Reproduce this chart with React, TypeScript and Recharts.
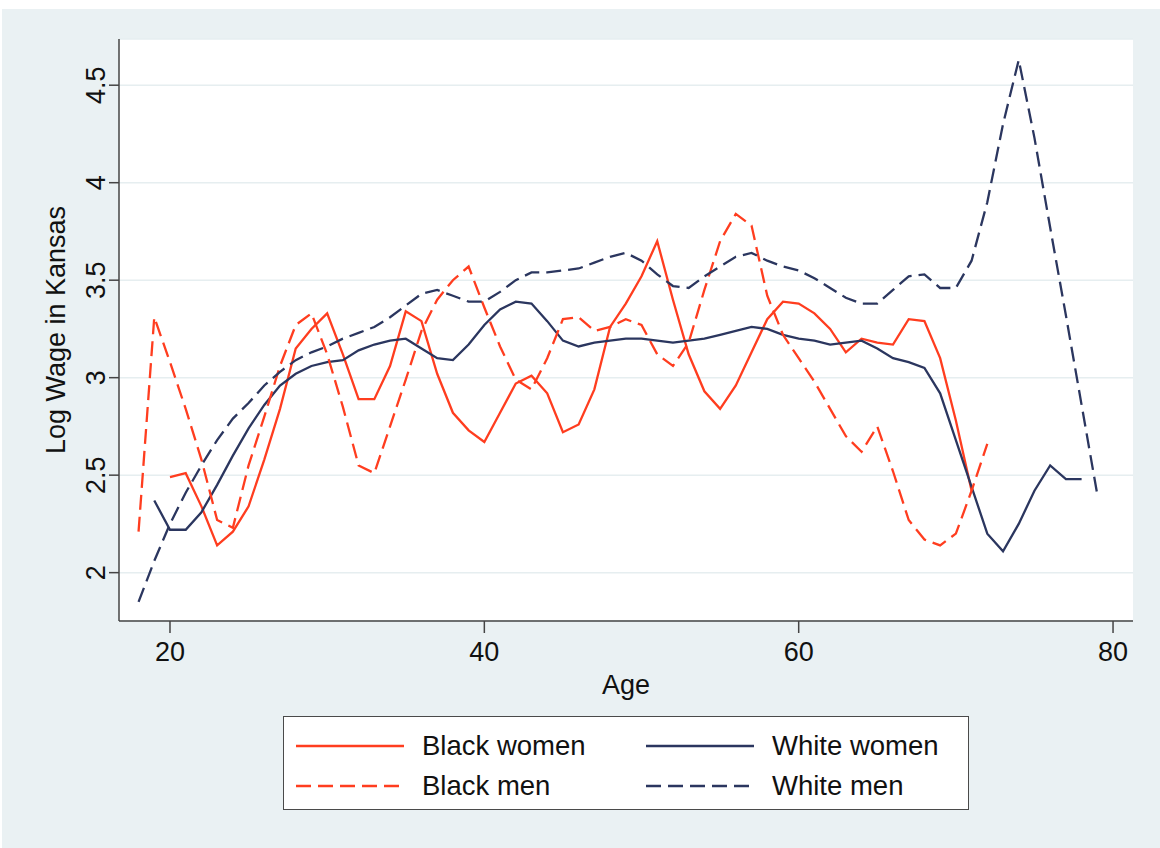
import React from 'react';
import { LineChart, Line, XAxis, YAxis, CartesianGrid, Label } from 'recharts';

// log wage by age, one value per year of age, each series starting at its own age
const firstAge = 18;
const lastAge = 79;

const blackWomenStart = 20;
const blackWomen = [
  2.49, 2.51, 2.34, 2.14, 2.21, 2.34, 2.58, 2.84, 3.15, 3.25,
  3.33, 3.12, 2.89, 2.89, 3.06, 3.34, 3.29, 3.02, 2.82, 2.73,
  2.67, 2.82, 2.97, 3.01, 2.92, 2.72, 2.76, 2.94, 3.26, 3.38,
  3.52, 3.7, 3.4, 3.12, 2.93, 2.84, 2.96, 3.13, 3.3, 3.39,
  3.38, 3.33, 3.25, 3.13, 3.2, 3.18, 3.17, 3.3, 3.29, 3.1,
  2.78, 2.42,
];

const whiteWomenStart = 19;
const whiteWomen = [
  2.37,
  2.22, 2.22, 2.31, 2.45, 2.6, 2.74, 2.86, 2.96, 3.02, 3.06,
  3.08, 3.09, 3.14, 3.17, 3.19, 3.2, 3.15, 3.1, 3.09, 3.17,
  3.27, 3.35, 3.39, 3.38, 3.29, 3.19, 3.16, 3.18, 3.19, 3.2,
  3.2, 3.19, 3.18, 3.19, 3.2, 3.22, 3.24, 3.26, 3.25, 3.22,
  3.2, 3.19, 3.17, 3.18, 3.19, 3.15, 3.1, 3.08, 3.05, 2.92,
  2.68, 2.44, 2.2, 2.11, 2.25, 2.42, 2.55, 2.48, 2.48,
];

const blackMenStart = 18;
const blackMen = [
  2.21, 3.31,
  3.08, 2.84, 2.58, 2.27, 2.23, 2.55, 2.8, 3.06, 3.27, 3.33,
  3.12, 2.85, 2.55, 2.51, 2.75, 2.99, 3.24, 3.4, 3.5, 3.57,
  3.36, 3.16, 2.99, 2.94, 3.1, 3.3, 3.31, 3.24, 3.26, 3.3,
  3.27, 3.12, 3.06, 3.18, 3.45, 3.7, 3.84, 3.78, 3.42, 3.22,
  3.1, 2.98, 2.84, 2.7, 2.62, 2.75, 2.52, 2.27, 2.17, 2.14,
  2.2, 2.42, 2.66,
];

const whiteMenStart = 18;
const whiteMen = [
  1.85, 2.06,
  2.25, 2.41, 2.55, 2.68, 2.79, 2.87, 2.96, 3.03, 3.09, 3.13,
  3.16, 3.2, 3.23, 3.26, 3.31, 3.37, 3.43, 3.45, 3.42, 3.39,
  3.39, 3.44, 3.5, 3.54, 3.54, 3.55, 3.56, 3.59, 3.62, 3.64,
  3.6, 3.53, 3.47, 3.46, 3.52, 3.57, 3.62, 3.64, 3.6, 3.57,
  3.55, 3.51, 3.46, 3.41, 3.38, 3.38, 3.45, 3.52, 3.53, 3.46,
  3.46, 3.6, 3.9, 4.3, 4.63, 4.23, 3.77, 3.32, 2.86, 2.4,
];

const xTicks = [20, 40, 60, 80];
const yTicks = [2, 2.5, 3, 3.5, 4, 4.5];

const RED = '#ff3d1f';
const NAVY = '#2b365f';
const FONT = '"Liberation Sans", Arial, Helvetica, sans-serif';
const AXIS = '#444';
const DASH = '15 7';

const series = [
  { key: 'bw', name: 'Black women', color: RED, dash: undefined as string | undefined },
  { key: 'ww', name: 'White women', color: NAVY, dash: undefined as string | undefined },
  { key: 'bm', name: 'Black men', color: RED, dash: DASH },
  { key: 'wm', name: 'White men', color: NAVY, dash: DASH },
];

const valueAt = (values: number[], start: number, age: number) => {
  const i = age - start;
  return i >= 0 && i < values.length ? values[i] : null;
};

const data: any[] = [];
for (let age = firstAge; age <= lastAge; age++) {
  data.push({
    age,
    bw: valueAt(blackWomen, blackWomenStart, age),
    ww: valueAt(whiteWomen, whiteWomenStart, age),
    bm: valueAt(blackMen, blackMenStart, age),
    wm: valueAt(whiteMen, whiteMenStart, age),
  });
}

// Stata draws the y labels turned on their side
const YTick = (props: any) => {
  const { x, y, payload } = props;
  const cx = x - 12;
  return (
    <text
      x={cx}
      y={y}
      dy="0.36em"
      transform={`rotate(-90 ${cx} ${y})`}
      textAnchor="middle"
      fontSize={27}
      fontFamily={FONT}
      fill="#111"
    >
      {String(payload.value)}
    </text>
  );
};

function LegendBox() {
  // left column: women row on top, men below; right column the same for white
  const cells = [
    { s: series[0], col: 0, row: 0 },
    { s: series[1], col: 1, row: 0 },
    { s: series[2], col: 0, row: 1 },
    { s: series[3], col: 1, row: 1 },
  ];
  return (
    <div
      style={{
        position: 'absolute',
        left: 281,
        top: 707,
        width: 684,
        height: 92,
        background: '#fff',
        border: '1px solid #4a4a4a',
        fontFamily: FONT,
        fontSize: 27.5,
        color: '#111',
      }}
    >
      {cells.map(({ s, col, row }) => {
        const left = col === 0 ? 12 : 362;
        const cy = row === 0 ? 29 : 69;
        return (
          <div key={s.key}>
            <svg
              style={{ position: 'absolute', left, top: cy - 3 }}
              width={108}
              height={6}
            >
              <line x1={0} y1={3} x2={108} y2={3} stroke={s.color} strokeWidth={2.4} strokeDasharray={s.dash} />
            </svg>
            <div
              style={{
                position: 'absolute',
                left: left + 126,
                top: cy - 16,
                lineHeight: '32px',
                whiteSpace: 'nowrap',
              }}
            >
              {s.name}
            </div>
          </div>
        );
      })}
    </div>
  );
}

export default function App() {
  return (
    <div
      style={{
        position: 'absolute',
        left: 2,
        top: 9,
        width: 1158,
        height: 839,
        background: '#eaf1f3',
      }}
    >
      <LineChart
        width={1158}
        height={839}
        data={data}
        margin={{ top: 30, right: 27, bottom: 0, left: 0 }}
      >
        <CartesianGrid vertical={false} stroke="#e6eef0" strokeWidth={1.5} fill="#ffffff" />
        <XAxis
          type="number"
          dataKey="age"
          domain={[16.756, 81.27]}
          allowDataOverflow
          ticks={xTicks}
          height={227}
          tickSize={12}
          tickMargin={9}
          axisLine={{ stroke: AXIS, strokeWidth: 1.5 }}
          tickLine={{ stroke: AXIS, strokeWidth: 1.5 }}
          tick={{ fontSize: 27, fill: '#111', fontFamily: FONT }}
        >
          <Label
            value="Age"
            position="insideTop"
            offset={54}
            style={{ fontSize: 27, fill: '#111', fontFamily: FONT }}
          />
        </XAxis>
        <YAxis
          type="number"
          domain={[1.752, 4.737]}
          allowDataOverflow
          ticks={yTicks}
          width={117}
          tickSize={10}
          axisLine={{ stroke: AXIS, strokeWidth: 1.5 }}
          tickLine={{ stroke: AXIS, strokeWidth: 1.5 }}
          tick={<YTick />}
        >
          <Label
            value="Log Wage in Kansas"
            angle={-90}
            position="insideLeft"
            offset={53}
            style={{ fontSize: 27, fill: '#111', fontFamily: FONT, textAnchor: 'middle' }}
          />
        </YAxis>
        {series.map((s) => (
          <Line
            key={s.key}
            type="linear"
            dataKey={s.key}
            name={s.name}
            stroke={s.color}
            strokeWidth={2.3}
            strokeDasharray={s.dash}
            dot={false}
            activeDot={false}
            isAnimationActive={false}
          />
        ))}
      </LineChart>
      <LegendBox />
    </div>
  );
}
